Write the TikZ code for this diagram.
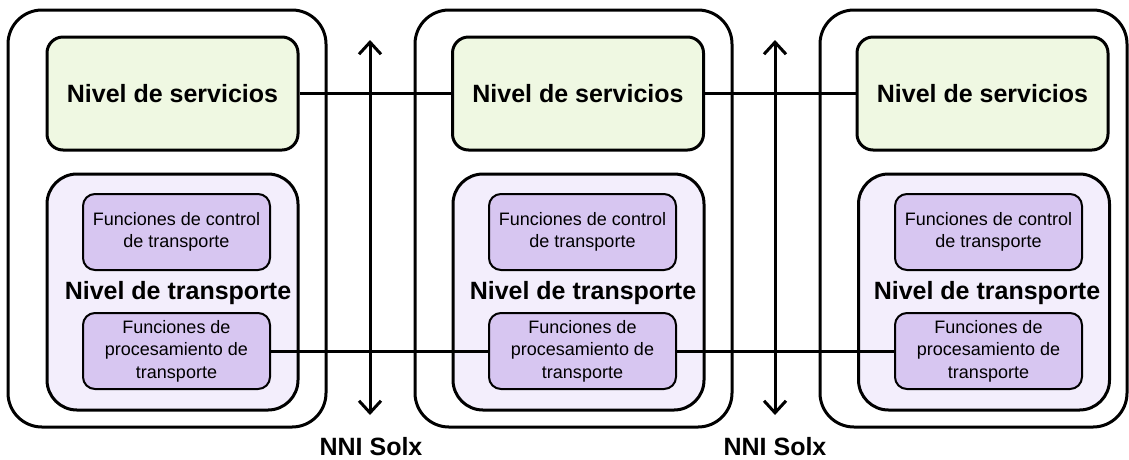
\documentclass[tikz,border=0pt]{standalone}
\usepackage{fontspec}
\setmainfont{Liberation Sans}
\usetikzlibrary{arrows.meta}

\definecolor{servfill}{HTML}{EFF8E2}
\definecolor{transfill}{HTML}{F3EEFC}
\definecolor{funcfill}{HTML}{D7C6F1}

\tikzset{
    nodo/.style={draw, line width=3pt, rounded corners=34pt, fill=white, minimum height=417pt},
    servicios/.style={draw, line width=3pt, rounded corners=16pt, fill=servfill,
        minimum width=251pt, minimum height=113pt, font=\fontsize{25}{30}\selectfont\bfseries},
    transporte/.style={draw, line width=3pt, rounded corners=30pt, fill=transfill,
        minimum width=251pt, minimum height=236pt},
    funcion/.style={draw, line width=2pt, rounded corners=12pt, fill=funcfill,
        minimum width=187pt, minimum height=76pt, inner sep=0pt, align=center,
        font=\fontsize{18}{22.5}\selectfont},
    etiqueta/.style={font=\fontsize{25}{30}\selectfont\bfseries},
    flecha/.style={line width=3pt, {Straight Barb[length=12pt,width=22pt]}-{Straight Barb[length=12pt,width=22pt]}},
    enlace/.style={line width=3pt}
}

\begin{document}
\begin{tikzpicture}[x=1pt,y=-1pt]
    \useasboundingbox (0,0) rectangle (1129,459);
    % nodos de red
    \node[nodo, minimum width=318pt] (n1) at (167,218.5){};
    \node[nodo, minimum width=317pt] (n2) at (573.5,218.5){};
    \node[nodo, minimum width=307pt] (n3) at (973.5,218.5){};
    % nivel de servicios
    \node[servicios] (sv1) at (172.5,93.5){Nivel de servicios};
    \node[servicios] (sv2) at (578,93.5){Nivel de servicios};
    \node[servicios] (sv3) at (982.5,93.5){Nivel de servicios};
    % nivel de transporte
    \node[transporte] (tr1) at (172.5,292){};
    \node[transporte] (tr2) at (578.5,292){};
    \node[transporte] (tr3) at (984,292){};
    \node[etiqueta] (lt1) at (178,293){Nivel de transporte};
    \node[etiqueta] (lt2) at (583,293){Nivel de transporte};
    \node[etiqueta] (lt3) at (987,293){Nivel de transporte};
    \node[funcion] (fc1) at (176.5,232){Funciones de control\\de transporte};
    \node[funcion] (fc2) at (582.5,232){Funciones de control\\de transporte};
    \node[funcion] (fc3) at (988.5,232){Funciones de control\\de transporte};
    \node[funcion] (fp1) at (176.5,351){Funciones de\\procesamiento de\\transporte};
    \node[funcion] (fp2) at (582.5,351){Funciones de\\procesamiento de\\transporte};
    \node[funcion] (fp3) at (988.5,351){Funciones de\\procesamiento de\\transporte};
    % interfaces NNI
    \coordinate (i1a) at (370,40);
    \coordinate (i1b) at (370,415);
    \coordinate (i2a) at (775,40);
    \coordinate (i2b) at (775,415);
    \draw[flecha](i1a)--(i1b);
    \draw[flecha](i2a)--(i2b);
    \node[etiqueta] (nni1) at (371,447){NNI Solx};
    \node[etiqueta] (nni2) at (775,447){NNI Solx};
    % enlaces
    \draw[enlace](sv1.east)--(sv2.west);
    \draw[enlace](sv2.east)--(sv3.west);
    \draw[enlace](fp1.east)--(fp2.west);
    \draw[enlace](fp2.east)--(fp3.west);
\end{tikzpicture}
\end{document}
